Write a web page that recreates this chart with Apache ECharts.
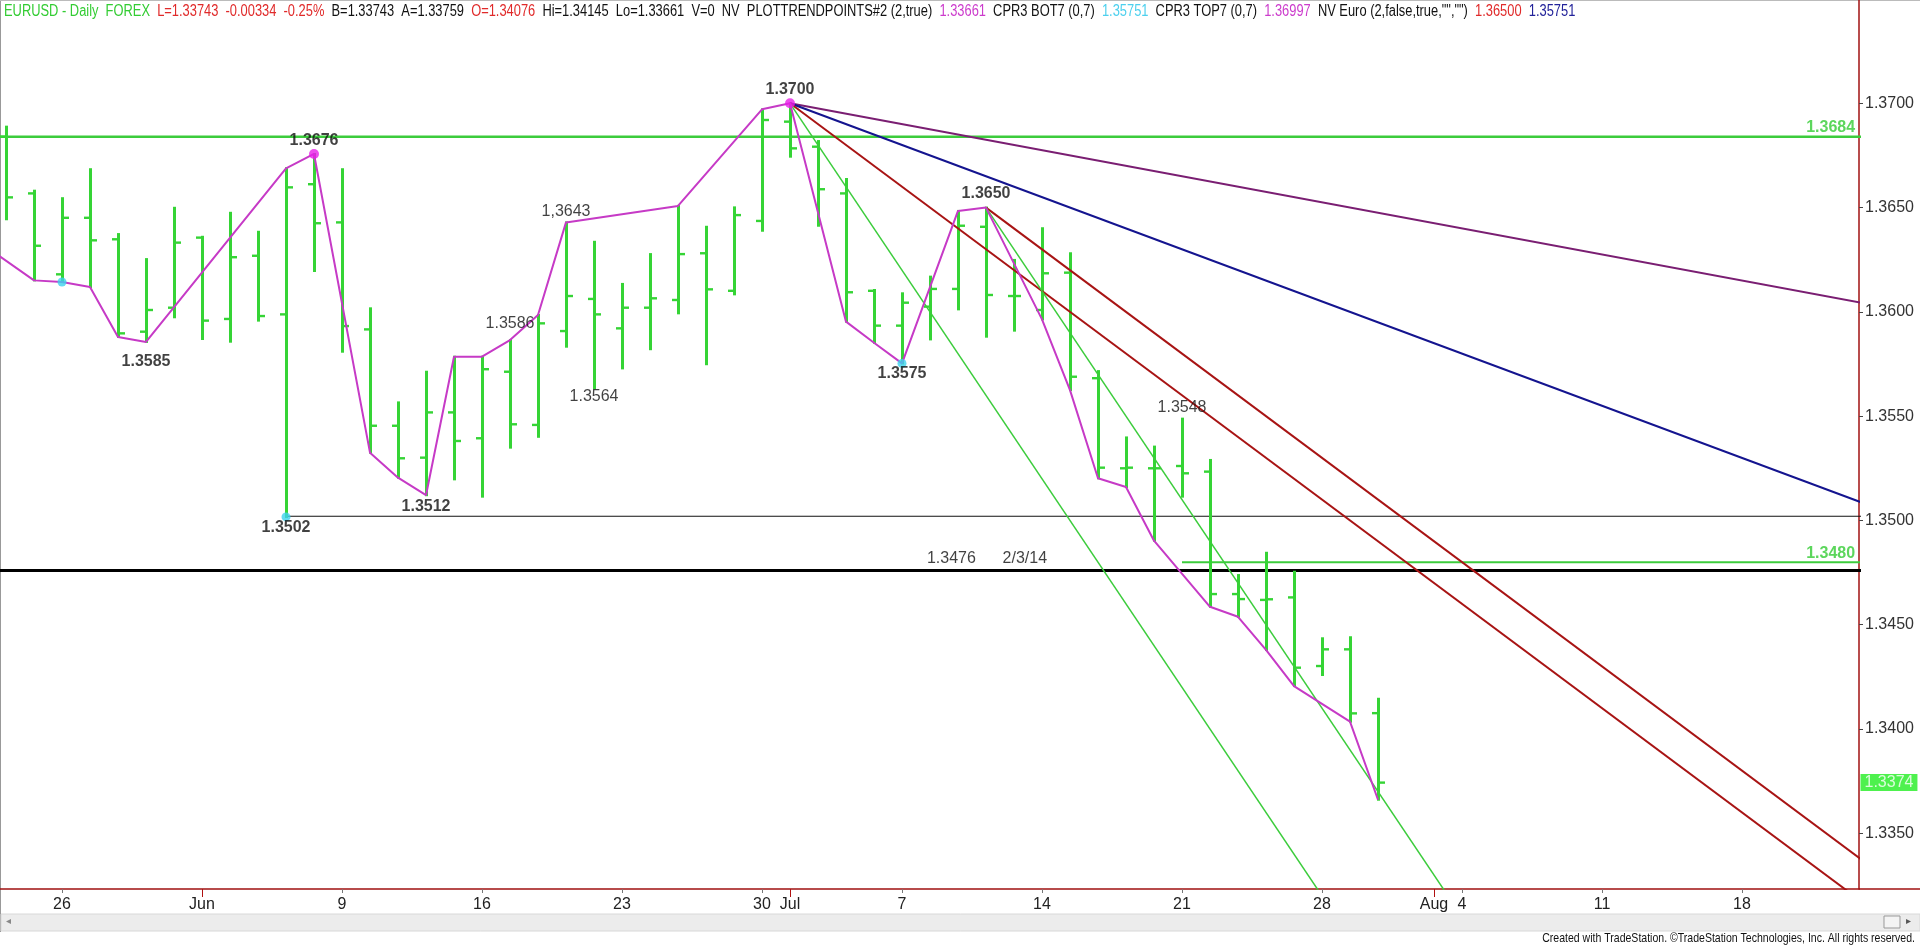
<!DOCTYPE html>
<html><head><meta charset="utf-8">
<script src="https://cdn.jsdelivr.net/npm/echarts@6/dist/echarts.min.js"></script>
<style>html,body{margin:0;padding:0;background:#fff;overflow:hidden}#c{width:1920px;height:945px;}</style>
</head><body><div id="c"></div>
<script>
// ---------- DATA ----------
const barDays = ['2014-05-22','2014-05-23','2014-05-26','2014-05-27','2014-05-28','2014-05-29','2014-05-30',
 '2014-06-02','2014-06-03','2014-06-04','2014-06-05','2014-06-06','2014-06-09','2014-06-10','2014-06-11','2014-06-12','2014-06-13',
 '2014-06-16','2014-06-17','2014-06-18','2014-06-19','2014-06-20','2014-06-23','2014-06-24','2014-06-25','2014-06-26','2014-06-27',
 '2014-06-30','2014-07-01','2014-07-02','2014-07-03','2014-07-04','2014-07-07','2014-07-08','2014-07-09','2014-07-10','2014-07-11',
 '2014-07-14','2014-07-15','2014-07-16','2014-07-17','2014-07-18','2014-07-21','2014-07-22','2014-07-23','2014-07-24','2014-07-25',
 '2014-07-28','2014-07-29','2014-07-30'];
const openP  = [1.3684,1.36568,1.36180,1.36451,1.36348,1.35905,1.36020,1.36356,1.35966,1.36269,1.35988,1.36612,1.36429,1.35916,1.35454,1.35301,1.35518,
 1.35394,1.35713,1.35458,1.35908,1.36062,1.35921,1.36020,1.36057,1.36281,1.36101,1.36436,1.36912,1.36792,1.36568,1.36101,1.35934,1.36025,1.36110,1.36408,1.36076,
 1.36009,1.36188,1.35682,1.35250,1.35250,1.35261,1.35234,1.34647,1.34619,1.34631,1.34302,1.34382,1.34076];
const highP  = [1.36888,1.36581,1.36545,1.36684,1.36373,1.36253,1.36499,1.36360,1.36475,1.36384,1.36688,1.36757,1.36684,1.36017,1.35566,1.35713,1.35785,
 1.35785,1.35865,1.35985,1.36429,1.36336,1.36134,1.36277,1.36508,1.36408,1.36501,1.36971,1.37000,1.36819,1.36637,1.36105,1.36089,1.36169,1.36484,1.36500,1.36249,
 1.36401,1.36281,1.35716,1.35398,1.35354,1.35488,1.35290,1.34738,1.34845,1.34754,1.34435,1.34440,1.34145];
const lowP   = [1.36444,1.36151,1.36143,1.36119,1.35880,1.35856,1.35974,1.35870,1.35857,1.35958,1.35017,1.36196,1.35809,1.35325,1.35205,1.35121,1.35197,
 1.35114,1.35349,1.35401,1.35833,1.35634,1.35729,1.35821,1.35993,1.35749,1.36084,1.36389,1.36744,1.36413,1.35953,1.35852,1.35753,1.35868,1.36012,1.35881,1.35910,
 1.35964,1.35625,1.35202,1.35160,1.34903,1.35114,1.34586,1.34538,1.34379,1.34206,1.34259,1.34035,1.33661];
const closeP = [1.36549,1.36317,1.36451,1.36343,1.35897,1.36009,1.36332,1.35958,1.36262,1.35980,1.36597,1.36425,1.35932,1.35454,1.35298,1.35518,1.35381,
 1.35725,1.35461,1.35945,1.36076,1.35988,1.36020,1.36065,1.36277,1.36108,1.36464,1.36920,1.36784,1.36588,1.36094,1.35934,1.36044,1.36110,1.36413,1.36081,1.36076,
 1.36185,1.35689,1.35253,1.35253,1.35250,1.35226,1.34647,1.34623,1.34622,1.34294,1.34382,1.34075,1.33743];

// zigzag (PLOTTRENDPOINTS) swing points: bar index, price
const swingIdx = [-1,1,2,3,4,5,10,11,13,14,15,16,17,18,19,20,24,27,28,30,31,32,34,35,37,38,39,40,41,43,44,45,46,48,49];
const swingVal = [1.3634,1.36151,1.36143,1.36119,1.35880,1.35856,1.36688,1.36757,1.35325,1.35205,1.35121,1.35785,1.35785,1.35865,1.35985,1.36429,
 1.36508,1.36971,1.37000,1.35953,1.35852,1.35753,1.36484,1.36500,1.35964,1.35625,1.35202,1.35160,1.34903,1.34586,1.34538,1.34379,1.34206,1.34035,1.33661];

// x-axis ticks (bar index of the day)
const tickIdx    = [2,12,17,22,27,32,37,42,47,52,57,62];
const tickLabels = ['26','9','16','23','30','7','14','21','28','4','11','18'];
const monthIdx    = [7,28,51];
const monthLabels = ['Jun','Jul','Aug'];
// y-axis ticks
const priceTicks = [1.3350,1.3400,1.3450,1.3500,1.3550,1.3600,1.3650,1.3700];

// horizontal levels
const levelNames = ['1.3684','1.3502','1.3476','1.3480'];
const levelVal   = [1.3684,1.3502,1.3476,1.3480];
const levelFrom  = [-1,10,-1,42];
const levelTo    = [70,70,70,70];

// trend lines (start index, start price, end index, end price)
const trendNames   = ['purple','navy','red1','red2','green1','green2'];
const trendFromIdx = [28,28,28,35,28,35];
const trendFromVal = [1.3700,1.3700,1.3700,1.3650,1.3700,1.3650];
const trendToIdx   = [70,70,70,70,70,70];
const trendToVal   = [1.3595,1.3490,1.3280,1.3300,1.2860,1.2950];

// pivot labels
const pivotText = ['1.3700','1.3676','1.3585','1.3502','1.3512','1.3586','1,3643','1.3564','1.3575','1.3650','1.3548'];
const pivotIdx  = [28,11,5,10,15,18,20,21,32,35,42];
const pivotSide = ['H','H','L','L','L','H','H','L','L','H','H'];

const magentaDotIdx = [11,28];
const cyanDotIdx    = [2,10,32];

const headerParts = [
 ['g','EURUSD - Daily  FOREX'],['r','L=1.33743  -0.00334  -0.25%'],['k','B=1.33743  A=1.33759'],['r','O=1.34076'],
 ['k','Hi=1.34145  Lo=1.33661  V=0  NV  PLOTTRENDPOINTS#2 (2,true)'],['m','1.33661'],['k','CPR3 BOT7 (0,7)'],['c','1.35751'],
 ['k','CPR3 TOP7 (0,7)'],['m','1.36997'],['k','NV Euro (2,false,true,"","")'],['r','1.36500'],['b','1.35751']];
const footerText = 'Created with TradeStation. \u00A9TradeStation Technologies, Inc. All rights reserved.';

// ---------- STYLES ----------
const GREEN = '#35d435';
const SANS = '"Liberation Sans",Arial,sans-serif';
const HIDDEN = 'rgba(0,0,0,0)';
const trendStyle = {
 purple:{color:'#7a1e72',width:2}, navy:{color:'#14148f',width:2},
 red1:{color:'#a81414',width:2}, red2:{color:'#a81414',width:2},
 green1:{color:'#3ccc3c',width:1.5}, green2:{color:'#3ccc3c',width:1.5}};
const levelStyle = [{color:'#3ccc3c',width:2.5},{color:'#111',width:1.2},{color:'#000',width:3},{color:'#3ccc3c',width:2}];
const pivotDy   = [-14,-13,20,11,11,-16,-11,8,10,-14,-11];
const pivotBold = [1,1,1,1,1,0,0,0,1,1,0];

const xMin = -6/28, xMax = 1853/28;
const yMin = 1.3700 - (889-103.3)/20857, yMax = 1.3700 + 103.3/20857;

const chart = echarts.init(document.getElementById('c'), null, {renderer:'canvas'});

const series = [];
levelVal.forEach((v,i)=>{
  series.push({type:'line', name:'lvl'+levelNames[i], z:2, symbol:'none', silent:true, clip:true,
    data:[[levelFrom[i],v],[levelTo[i],v]], lineStyle:{color:levelStyle[i].color,width:levelStyle[i].width}});
});
series.push({type:'custom', name:'EURUSD', z:3, clip:true,
  data: barDays.map((d,i)=>[i,openP[i],highP[i],lowP[i],closeP[i]]),
  encode:{x:0,y:[1,2,3,4]},
  renderItem:function(params,api){
    const k=api.value(0);
    const o=api.coord([k,api.value(1)]), h=api.coord([k,api.value(2)]), l=api.coord([k,api.value(3)]), c=api.coord([k,api.value(4)]);
    const xc=Math.round(h[0])+0.5;
    const st={stroke:GREEN,lineWidth:3};
    const st2={stroke:GREEN,lineWidth:2.4};
    return {type:'group',children:[
      {type:'line',shape:{x1:xc,y1:h[1]-1,x2:xc,y2:l[1]+1},style:st},
      {type:'line',shape:{x1:xc-6.5,y1:o[1],x2:xc,y2:o[1]},style:st2},
      {type:'line',shape:{x1:xc,y1:c[1],x2:xc+6.5,y2:c[1]},style:st2}]};
  }});
trendNames.forEach((n,i)=>{
  series.push({type:'line', name:n, z:4, symbol:'none', silent:true, clip:true,
    data:[[trendFromIdx[i],trendFromVal[i]],[trendToIdx[i],trendToVal[i]]],
    lineStyle:{color:trendStyle[n].color,width:trendStyle[n].width}});
});
series.push({type:'line', name:'zigzag', z:5, symbol:'none', clip:true,
  data: swingIdx.map((k,i)=>[k,swingVal[i]]), lineStyle:{color:'#c63ac6',width:2}});
series.push({type:'scatter', z:6, symbolSize:10, itemStyle:{color:'#e81ee8'},
  data: magentaDotIdx.map(k=>[k,highP[k]])});
series.push({type:'scatter', z:6, symbolSize:9, itemStyle:{color:'#3cd2ee'},
  data: cyanDotIdx.map(k=>[k,lowP[k]])});
series.push({type:'scatter', z:7, symbolSize:1, itemStyle:{color:HIDDEN}, silent:true,
  data: pivotIdx.map((k,i)=>({value:[k, pivotSide[i]==='H'?highP[k]:lowP[k]],
    label:{show:true,position:'inside',formatter:pivotText[i],offset:[0,pivotDy[i]],
      fontFamily:SANS,fontSize:16,fontWeight:pivotBold[i]?'bold':'normal',color:'#111'}}))});
series.push({type:'scatter', z:7, symbolSize:1, itemStyle:{color:HIDDEN}, silent:true,
  data:[
    {value:[66.04,levelVal[0]],label:{show:true,position:'inside',align:'right',formatter:levelNames[0],offset:[0,-9],fontFamily:SANS,fontSize:16,fontWeight:'bold',color:'#33cc33'}},
    {value:[66.04,levelVal[3]],label:{show:true,position:'inside',align:'right',formatter:levelNames[3],offset:[0,-9],fontFamily:SANS,fontSize:16,fontWeight:'bold',color:'#33cc33'}},
    {value:[35,levelVal[2]],label:{show:true,position:'inside',formatter:levelNames[2]+'      2/3/14',offset:[1,-12],fontFamily:SANS,fontSize:16,color:'#111'}}
  ]});
series.push({type:'scatter', z:8, symbolSize:1, itemStyle:{color:HIDDEN}, silent:true, clip:false,
  data:[{value:[xMax,closeP[closeP.length-1]],label:{show:true,position:'right',distance:1,
    formatter:closeP[closeP.length-1].toFixed(4),backgroundColor:'#22ee22',color:'#fff',
    fontFamily:SANS,fontSize:16,padding:[1,4,0,4],lineHeight:16}}]});

const richCol = {g:'#33cc33', r:'#e02a2a', k:'#111', m:'#cc3ccc', c:'#4cd0ee', b:'#22229a'};
const rich = {};
Object.keys(richCol).forEach(k=>{rich[k]={fill:richCol[k],fontFamily:SANS,fontSize:16};});

chart.setOption({
  animation:false,
  backgroundColor:'#fff',
  grid:{left:0,top:0,right:61,bottom:56,containLabel:false},
  xAxis:[
    {type:'value',min:xMin,max:xMax,position:'bottom',
      axisLine:{show:true,onZero:false,lineStyle:{color:'#a01010',width:1.5}},
      splitLine:{show:false},
      axisTick:{show:true,customValues:tickIdx,length:4,lineStyle:{color:'#777'}},
      axisLabel:{show:true,customValues:tickIdx,margin:8,fontFamily:SANS,fontSize:16,color:'#222',
        formatter:function(v){const i=tickIdx.indexOf(Math.round(v));return i>=0?tickLabels[i]:'';}}},
    {type:'value',min:xMin,max:xMax,position:'bottom',
      axisLine:{show:false,onZero:false},splitLine:{show:false},
      axisTick:{show:true,customValues:monthIdx,length:8,lineStyle:{color:'#b01010'}},
      axisLabel:{show:true,customValues:monthIdx,margin:8,fontFamily:SANS,fontSize:16,color:'#222',
        formatter:function(v){const i=monthIdx.indexOf(Math.round(v));return i>=0?monthLabels[i]:'';}}}
  ],
  yAxis:{type:'value',min:yMin,max:yMax,position:'right',
    axisLine:{show:true,onZero:false,lineStyle:{color:'#a01010',width:1.5}},
    splitLine:{show:false},
    axisTick:{show:true,customValues:priceTicks,length:4,lineStyle:{color:'#444'}},
    axisLabel:{show:true,customValues:priceTicks,margin:6,fontFamily:SANS,fontSize:16,color:'#333',
      formatter:function(v){return v.toFixed(4);}}},
  series:series,
  graphic:[
    {type:'line',shape:{x1:0.5,y1:0,x2:0.5,y2:932},style:{stroke:'#999',lineWidth:1},silent:true},
    {type:'line',shape:{x1:0,y1:0.5,x2:1920,y2:0.5},style:{stroke:'#bbb',lineWidth:1},silent:true},
    {type:'line',shape:{x1:1859,y1:889,x2:1920,y2:889},style:{stroke:'#a01010',lineWidth:1.5},silent:true},
    {type:'text',x:4,y:4,scaleX:0.805,silent:true,z:10,
      style:{text:headerParts.map(p=>'{'+p[0]+'|'+p[1]+'}').join('{k|  }'),rich:rich,font:'16px '+SANS,fill:'#111'}},
    {type:'rect',shape:{x:1,y:914,width:1919,height:17},style:{fill:'#ececec',stroke:'#d8d8d8',lineWidth:1},silent:true},
    {type:'text',x:6,y:916,style:{text:'\u25C2',fill:'#888',fontSize:10},silent:true},
    {type:'rect',shape:{x:1884,y:916,width:16,height:12},style:{fill:'#f4f4f4',stroke:'#999',lineWidth:1},silent:true},
    {type:'text',x:1906,y:916,style:{text:'\u25B8',fill:'#555',fontSize:10},silent:true},
    {type:'text',x:1915,y:932,scaleX:0.81,silent:true,
      style:{text:footerText,fill:'#111',font:'13px '+SANS,align:'right'}}
  ]
});
</script></body></html>
